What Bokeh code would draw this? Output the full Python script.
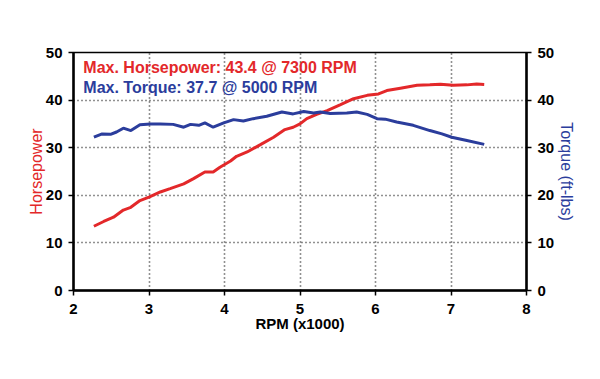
from bokeh.plotting import figure
from bokeh.models import LinearAxis, Range1d, FixedTicker, Label
from bokeh.embed import file_html
from bokeh.resources import INLINE

# ---- data ----
rpm_hp = [2.27, 2.40, 2.53, 2.66, 2.75, 2.88, 3.00, 3.15, 3.28, 3.46, 3.59, 3.74, 3.85,
          3.94, 4.08, 4.16, 4.30, 4.47, 4.65, 4.80, 4.91, 5.00, 5.09, 5.22, 5.36, 5.53,
          5.71, 5.89, 6.04, 6.15, 6.33, 6.55, 6.72, 6.86, 7.03, 7.21, 7.34, 7.44]
hp = [13.5, 14.5, 15.4, 16.9, 17.4, 18.9, 19.6, 20.7, 21.4, 22.4, 23.5, 24.9, 24.9,
      25.9, 27.2, 28.2, 29.1, 30.6, 32.2, 33.8, 34.3, 35.0, 36.1, 37.0, 37.8, 39.0,
      40.3, 41.0, 41.3, 42.0, 42.5, 43.1, 43.2, 43.35, 43.1, 43.2, 43.4, 43.3]

rpm_tq = [2.27, 2.38, 2.49, 2.57, 2.66, 2.76, 2.88, 3.02, 3.15, 3.32, 3.46, 3.55, 3.66,
          3.74, 3.85, 3.99, 4.12, 4.25, 4.38, 4.56, 4.76, 4.91, 5.05, 5.18, 5.27, 5.40,
          5.62, 5.75, 5.89, 6.02, 6.13, 6.28, 6.50, 6.72, 6.88, 7.01, 7.21, 7.44]
tq = [32.2, 32.9, 32.8, 33.3, 34.1, 33.6, 34.8, 35.0, 35.0, 34.9, 34.3, 34.9, 34.7,
      35.2, 34.3, 35.2, 35.9, 35.6, 36.1, 36.6, 37.5, 37.1, 37.6, 37.3, 37.5, 37.2,
      37.3, 37.5, 37.0, 36.1, 36.0, 35.4, 34.7, 33.6, 32.9, 32.2, 31.5, 30.7]

x_ticks = [2, 3, 4, 5, 6, 7, 8]
y_ticks = [0, 10, 20, 30, 40, 50]

hp_note = "Max. Horsepower: 43.4 @ 7300 RPM"
tq_note = "Max. Torque: 37.7 @ 5000 RPM"

RED = "#e3282a"
BLUE = "#2b3d9c"
FONT = "Liberation Sans"

p = figure(width=584, height=363, x_range=Range1d(2, 8), y_range=Range1d(0, 50),
           output_backend="svg", toolbar_location=None,
           min_border_left=73, min_border_right=58, min_border_top=52, min_border_bottom=73)
p.extra_y_ranges = {"torque": Range1d(0, 50)}

p.outline_line_color = "black"
p.outline_line_width = 1.5
p.background_fill_color = "white"
p.border_fill_color = "white"

# grid
p.xgrid.ticker = FixedTicker(ticks=[3, 4, 5, 6, 7])
p.ygrid.ticker = FixedTicker(ticks=[10, 20, 30, 40])
for g in (p.xgrid, p.ygrid):
    g.grid_line_color = "#222222"
    g.grid_line_dash = "1 3"
    g.grid_line_width = 1.6


def style_axis(ax, label, color, bold):
    ax.axis_label = label
    ax.axis_label_text_font = FONT
    ax.axis_label_text_font_size = "16px" if not bold else "15px"
    ax.axis_label_text_font_style = "bold" if bold else "normal"
    ax.axis_label_text_color = color
    ax.major_label_text_font = FONT
    ax.major_label_text_font_size = "15px"
    ax.major_label_text_font_style = "bold"
    ax.major_label_text_color = "black"
    ax.axis_line_color = "black"
    ax.axis_line_width = 2.5
    ax.major_tick_line_color = "black"
    ax.major_tick_line_width = 1.5
    ax.major_tick_out = 5
    ax.major_tick_in = 0
    ax.minor_tick_line_color = None


# x axis
xa = p.xaxis[0]
xa.ticker = FixedTicker(ticks=x_ticks)
style_axis(xa, "RPM (x1000)", "black", True)
xa.major_label_standoff = 8
xa.axis_label_standoff = -2

# left axis
ya = p.yaxis[0]
ya.ticker = FixedTicker(ticks=y_ticks)
style_axis(ya, "Horsepower", RED, False)
ya.major_label_standoff = 6
ya.axis_label_standoff = -2

# right axis
ra = LinearAxis(y_range_name="torque", ticker=FixedTicker(ticks=y_ticks))
style_axis(ra, "Torque (ft-lbs)", BLUE, False)
ra.major_label_standoff = 6
ra.axis_label_standoff = 1
p.add_layout(ra, "right")

# curves
p.line(rpm_hp, hp, line_color=RED, line_width=3)
p.line(rpm_tq, tq, line_color=BLUE, line_width=3, y_range_name="torque")

# annotations
p.add_layout(Label(x=2.13, y=46.85, text=hp_note, text_color=RED, text_font=FONT,
                   text_font_size="16px", text_font_style="bold", text_baseline="alphabetic"))
p.add_layout(Label(x=2.13, y=42.65, text=tq_note, text_color=BLUE, text_font=FONT,
                   text_font_size="16px", text_font_style="bold", text_baseline="alphabetic"))

open("out.html", "w").write(file_html(p, INLINE))
